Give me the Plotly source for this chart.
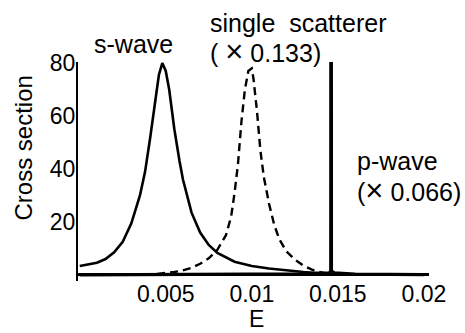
import plotly.graph_objects as go

# ---- data ----
E_s = [0.0, 0.0005, 0.001, 0.0015, 0.002, 0.0025, 0.003, 0.0035, 0.0038, 0.0041,
       0.0044, 0.0046, 0.0048, 0.005, 0.0052, 0.0055, 0.0058, 0.006, 0.0065, 0.007,
       0.0075, 0.008, 0.009, 0.010, 0.011, 0.012, 0.013, 0.014, 0.0146]
sigma_s = [3.4, 3.9, 4.6, 6.0, 8.5, 12.5, 19.5, 30.0, 39.0, 52.0,
           67.0, 75.5, 80.0, 77.0, 70.0, 55.0, 43.0, 36.0, 23.5, 16.0,
           11.3, 8.3, 5.0, 3.4, 2.4, 1.7, 1.1, 0.6, 0.2]

E_single = [0.0045, 0.005, 0.0055, 0.006, 0.0065, 0.007, 0.0075, 0.008, 0.0085, 0.0088,
            0.009, 0.0092, 0.0094, 0.0096, 0.0098, 0.0100, 0.0101, 0.0103, 0.0105, 0.0107,
            0.011, 0.0113, 0.0116, 0.012, 0.0125, 0.013, 0.0135, 0.014, 0.0145]
sigma_single = [0.4, 0.7, 1.1, 1.7, 2.7, 4.2, 6.3, 9.5, 15.0, 22.0,
                31.0, 42.0, 58.0, 70.0, 77.0, 78.0, 74.0, 62.0, 47.0, 37.0,
                27.0, 19.0, 13.5, 9.0, 5.8, 3.5, 2.0, 1.0, 0.3]

E_p = [0.0, 0.005, 0.010, 0.013, 0.0145, 0.01459, 0.01461, 0.01463, 0.0148, 0.016, 0.020]
sigma_p = [0.05, 0.08, 0.15, 0.4, 0.8, 1.5, 400.0, 1.5, 0.8, 0.3, 0.1]

x_tickvals = [0.005, 0.01, 0.015, 0.02]
x_ticktext = ["0.005", "0.01", "0.015", "0.02"]
y_tickvals = [20, 40, 60, 80]
y_ticktext = ["20", "40", "60", "80"]

FONT = "Liberation Sans, Arial, Helvetica, sans-serif"
TIMES = "<span style='font-size:31px'>×</span>"

fig = go.Figure()
fig.add_trace(go.Scatter(x=E_s, y=sigma_s, mode="lines",
                         line=dict(color="black", width=2.6), name="s-wave"))
fig.add_trace(go.Scatter(x=E_single, y=sigma_single, mode="lines",
                         line=dict(color="black", width=2.4, dash="8px,5px"),
                         name="single scatterer"))
fig.add_trace(go.Scatter(x=E_p, y=sigma_p, mode="lines",
                         line=dict(color="black", width=3.2), name="p-wave"))

ann_font = dict(family=FONT, size=25, color="black")
annotations = [
    dict(x=0.1595, y=1.082, text="s-wave", xanchor="center", yanchor="middle"),
    dict(x=0.3704, y=1.178, text="single\u00a0\u00a0scatterer", xanchor="left", yanchor="middle"),
    dict(x=0.3704, y=1.046, text="(\u00a0" + TIMES + "\u00a00.133)", xanchor="left", yanchor="middle"),
    dict(x=0.789, y=0.548, text="p-wave", xanchor="left", yanchor="middle"),
    dict(x=0.789, y=0.411, text="(" + TIMES + "\u00a00.066)", xanchor="left", yanchor="middle"),
]
for a in annotations:
    a.update(xref="paper", yref="paper", showarrow=False, font=ann_font)

# axis titles
annotations.append(dict(xref="paper", yref="paper", x=0, y=0.5, xshift=-55, yshift=23,
                        text="Cross section", textangle=-90, showarrow=False,
                        xanchor="center", yanchor="middle",
                        font=dict(family=FONT, size=24, color="black")))
annotations.append(dict(xref="paper", yref="paper", x=0.5, y=0, xshift=3, yshift=-38,
                        text="E", showarrow=False, xanchor="center", yanchor="middle",
                        font=dict(family=FONT, size=23, color="black")))

fig.update_layout(
    width=465, height=333,
    margin=dict(l=78, r=36, t=62, b=52),
    paper_bgcolor="white", plot_bgcolor="white",
    showlegend=False,
    annotations=annotations,
    xaxis=dict(range=[-0.0001, 0.0203], showgrid=False, zeroline=False, showline=False,
               tickvals=x_tickvals, ticktext=x_ticktext, ticks="", ticklabelstandoff=-3,
               tickfont=dict(family=FONT, size=23, color="black")),
    yaxis=dict(range=[-2.3, 80.4], showgrid=False, zeroline=True, zerolinecolor="black",
               zerolinewidth=2.6, showline=True, linecolor="black", linewidth=2,
               tickvals=y_tickvals, ticktext=y_ticktext, ticks="", ticklabelstandoff=-4,
               tickfont=dict(family=FONT, size=23, color="black")),
)

fig.write_html("out.html", config={"displayModeBar": False},
               post_script="document.body.style.margin='0';document.body.style.overflow='hidden';")
